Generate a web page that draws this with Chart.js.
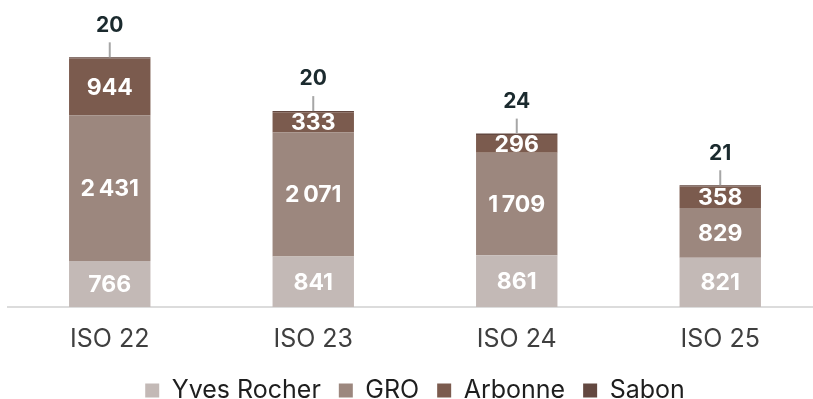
<!DOCTYPE html>
<html lang="en">
<head>
    <meta charset="UTF-8">
    <title>ISO stacked bars</title>
    <script src="https://cdn.jsdelivr.net/npm/chart.js"></script>
    <style>
        html, body { margin: 0; padding: 0; background: #fff; overflow: hidden; }
        #wrap { position: relative; width: 822px; height: 413px; }
    </style>
</head>
<body>
    <div id="wrap"><canvas id="chart"></canvas></div>

    <script>
        // data
        const categories = ['ISO 22', 'ISO 23', 'ISO 24', 'ISO 25'];
        const yvesRocher = [766, 841, 861, 821];
        const gro = [2431, 2071, 1709, 829];
        const arbonne = [944, 333, 296, 358];
        const sabon = [20, 20, 24, 21];

        const fmt = v => String(v).replace(/\B(?=(\d{3})+(?!\d))/g, '\u202F');

        // labels inside segments + leader line for the thin top segment
        const labelPlugin = {
            id: 'segLabels',
            afterDatasetsDraw(chart) {
                const ctx = chart.ctx;
                ctx.save();
                ctx.textAlign = 'center';
                ctx.textBaseline = 'middle';
                chart.data.datasets.forEach((ds, i) => {
                    const meta = chart.getDatasetMeta(i);
                    meta.data.forEach((bar, j) => {
                        const v = ds.data[j];
                        if (i === 3) {
                            ctx.strokeStyle = '#a6a6a6';
                            ctx.lineWidth = 2;
                            ctx.beginPath();
                            ctx.moveTo(bar.x, bar.y);
                            ctx.lineTo(bar.x, bar.y - 15);
                            ctx.stroke();
                            ctx.fillStyle = '#1b2a2e';
                            ctx.font = 'bold 21px Inter';
                            ctx.fillText(fmt(v), bar.x, bar.y - 32);
                        } else {
                            ctx.fillStyle = '#ffffff';
                            ctx.font = 'bold 23px Inter';
                            ctx.fillText(fmt(v), bar.x, (bar.y + bar.base) / 2 + 1);
                        }
                    });
                });
                ctx.restore();
            }
        };

        const ctx = document.getElementById('chart').getContext('2d');
        new Chart(ctx, {
            type: 'bar',
            data: {
                labels: categories,
                datasets: [
                    { label: 'Yves Rocher', data: yvesRocher, backgroundColor: '#c3b9b6' },
                    { label: 'GRO', data: gro, backgroundColor: '#9c877e' },
                    { label: 'Arbonne', data: arbonne, backgroundColor: '#7b5b4e' },
                    { label: 'Sabon', data: sabon, backgroundColor: '#634840' }
                ]
            },
            options: {
                responsive: true,
                maintainAspectRatio: false,
                animation: false,
                datasets: {
                    bar: { categoryPercentage: 1, barPercentage: 0.4, borderWidth: 0 }
                },
                layout: { padding: { top: 19, left: 8, right: 0, bottom: 0 } },
                plugins: {
                    tooltip: { enabled: false },
                    legend: {
                        position: 'bottom',
                        labels: {
                            boxWidth: 14,
                            boxHeight: 14,
                            padding: 18,
                            color: '#1e1e1e',
                            font: { family: 'Inter', size: 25 }
                        }
                    }
                },
                scales: {
                    x: {
                        stacked: true,
                        grid: { display: false },
                        border: { display: true, color: '#dcdcdc', width: 2 },
                        ticks: { color: '#3f3f3f', padding: 9, font: { family: 'Inter', size: 25 } },
                        afterFit: scale => { scale.height -= 3; }
                    },
                    y: {
                        stacked: true,
                        display: false,
                        min: 0,
                        max: 4800
                    }
                }
            },
            plugins: [labelPlugin]
        });
    </script>
</body>
</html>
